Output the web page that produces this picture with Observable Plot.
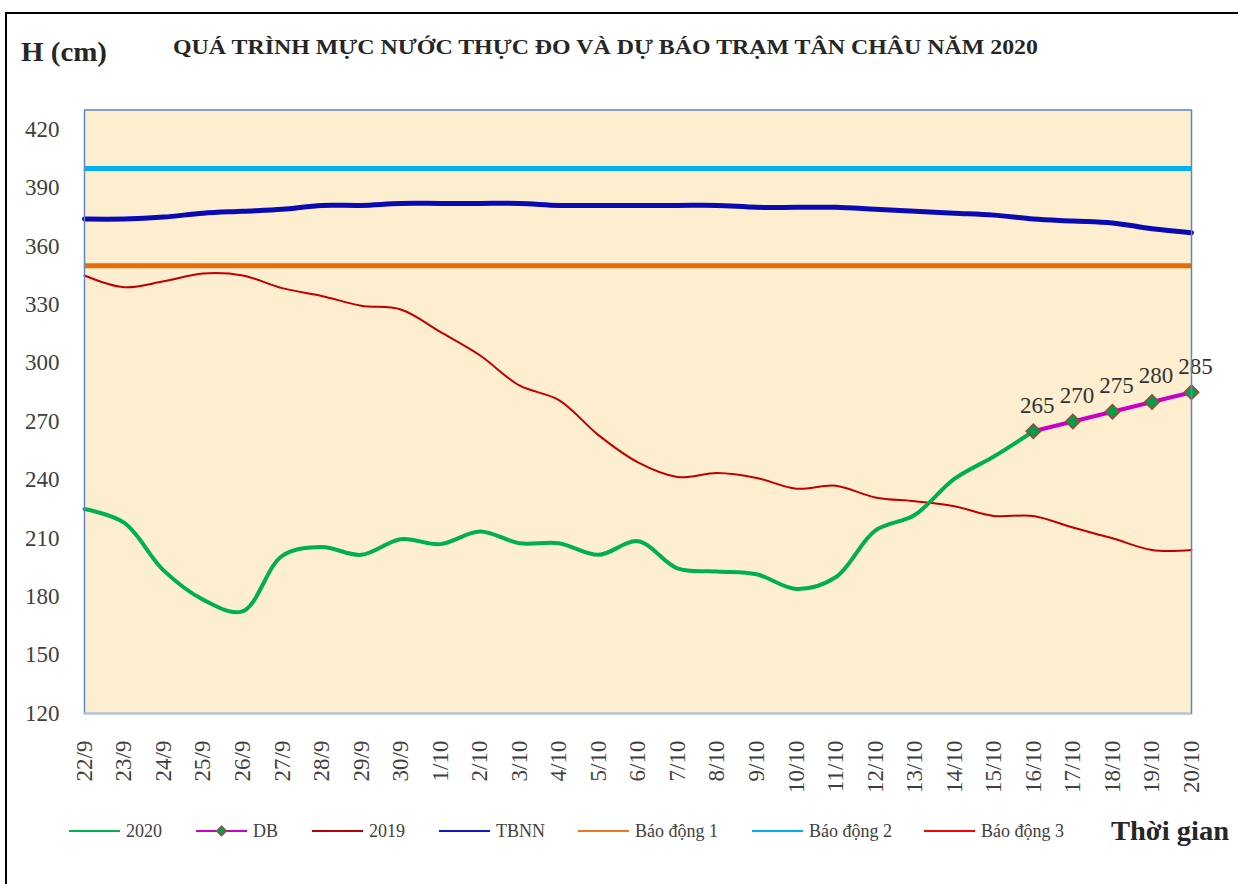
<!DOCTYPE html>
<html><head><meta charset="utf-8">
<script src="https://cdn.jsdelivr.net/npm/d3@7"></script>
<script src="https://cdn.jsdelivr.net/npm/@observablehq/plot@0.6"></script>
<style>
body{margin:0;background:#fff;}
#wrap{position:relative;width:1238px;height:884px;overflow:hidden;font-family:"Liberation Serif","Times New Roman",serif;}
#border{position:absolute;left:5px;top:12px;width:1300px;height:900px;border:2px solid #000;box-sizing:border-box;}
#chart{position:absolute;left:0;top:0;}
#chart svg, #chart svg text{font-family:"Liberation Serif","Times New Roman",serif !important;}
#overlay{position:absolute;left:0;top:0;}
</style></head><body>
<div id="wrap"><div id="border"></div><div id="chart"></div><svg id="overlay" width="1238" height="884"></svg></div>
<script>
// ---- data ----
const dates = ["22/9","23/9","24/9","25/9","26/9","27/9","28/9","29/9","30/9",
  "1/10","2/10","3/10","4/10","5/10","6/10","7/10","8/10","9/10","10/10",
  "11/10","12/10","13/10","14/10","15/10","16/10","17/10","18/10","19/10","20/10"];
const obs2020 = [225, 218, 193.5, 178.5, 172.5, 201, 205.5, 201.5, 209.5, 207, 213.5, 207.5, 207.5,
  201.5, 208.5, 194.5, 193, 191.5, 184, 190, 214, 222, 240.5, 252, 265];
const forecastDB = [265, 270, 275, 280, 285];
const forecastStart = 24;
const y2019 = [345, 339, 342, 346, 345, 338.5, 334.5, 329.5, 327.5, 316, 304, 288.5, 281, 263, 249,
  241.5, 243.5, 241, 235.5, 237, 231, 229, 226.5, 221.5, 221.5, 215.5, 210, 204, 204];
const tbnn = [374, 374, 375, 377, 378, 379, 381, 381, 382, 382, 382, 382, 381, 381, 381, 381, 381,
  380, 380, 380, 379, 378, 377, 376, 374, 373, 372, 369, 367];
const alarm1 = 350, alarm2 = 400, alarm3 = 450;
const yTicks = [120, 150, 180, 210, 240, 270, 300, 330, 360, 390, 420];
const legendNames = ["2020", "DB", "2019", "TBNN", "Báo động 1", "Báo động 2", "Báo động 3"];
const legendColors = ["#00B050", "#CC00CC", "#C00000", "#1515C8", "#F07820", "#00B0F0", "#FF0000"];
const legendX = [69, 196, 312, 439, 578, 752, 924];

// ---- tables ----
const obsData = obs2020.map((v, i) => ({i, v}));
const dbData = forecastDB.map((v, k) => ({i: forecastStart + k, v}));
const d2019 = y2019.map((v, i) => ({i, v}));
const dTbnn = tbnn.map((v, i) => ({i, v}));

const serif = "'Liberation Serif', 'Times New Roman', serif";

const chart = Plot.plot({
  width: 1238, height: 800,
  marginLeft: 84, marginRight: 47, marginTop: 109.5, marginBottom: 87,
  style: {fontFamily: serif, fontSize: "23px", color: "#404040", background: "transparent", overflow: "visible"},
  x: {domain: [0, dates.length - 1], ticks: d3.range(dates.length), tickFormat: i => dates[i], tickSize: 0, tickRotate: -90, tickPadding: 27, label: null},
  y: {domain: [120, 430], ticks: yTicks, tickSize: 0, tickPadding: 25, label: null},
  marks: [
    Plot.frame({fill: "#FDEECF", stroke: null}),
    Plot.ruleY([alarm1], {stroke: "#E46C0A", strokeWidth: 5}),
    Plot.ruleY([alarm2], {stroke: "#00B0F0", strokeWidth: 5}),
    Plot.line(dTbnn, {x: "i", y: "v", stroke: "#0A0AB4", strokeWidth: 5, curve: "catmull-rom"}),
    Plot.line(d2019, {x: "i", y: "v", stroke: "#C00000", strokeWidth: 2, curve: "catmull-rom"}),
    Plot.line(obsData, {x: "i", y: "v", stroke: "#00B050", strokeWidth: 4, curve: "catmull-rom"}),
    Plot.line(dbData, {x: "i", y: "v", stroke: "#C800C8", strokeWidth: 4}),
    Plot.dot(dbData, {x: "i", y: "v", symbol: "diamond2", r: 6.5, fill: "#00A04A", stroke: "#A8403C", strokeWidth: 1.5}),
    Plot.text(dbData, {x: "i", y: "v", text: d => String(d.v), dy: -26, dx: 4, fontSize: 23, fill: "#333", fontFamily: serif}),
    Plot.frame({stroke: "#5B87C5", strokeWidth: 1.5, fill: null}),
    Plot.ruleY([120], {stroke: "#B9C4D6", strokeWidth: 2})
  ]
});
// force serif font on every text node of the chart
d3.select(chart).selectAll("text, tspan, g")
  .attr("font-family", serif)
  .style("font-family", serif);
document.getElementById("chart").appendChild(chart);

// ---- title & legend (text overlay) ----
const ns = "http://www.w3.org/2000/svg";
const ov = document.getElementById("overlay");
function txt(x, y, s, attrs) {
  const t = document.createElementNS(ns, "text");
  t.setAttribute("x", x); t.setAttribute("y", y);
  for (const k in attrs) t.setAttribute(k, attrs[k]);
  t.textContent = s; ov.appendChild(t); return t;
}
function el(name, attrs) {
  const e = document.createElementNS(ns, name);
  for (const k in attrs) e.setAttribute(k, attrs[k]);
  ov.appendChild(e); return e;
}
txt(21, 61, "H (cm)", {"font-family": serif, "font-size": 27, "font-weight": "bold", fill: "#262626", textLength: 86, lengthAdjust: "spacingAndGlyphs"});
txt(173, 54, "QUÁ TRÌNH MỰC NƯỚC THỰC ĐO VÀ DỰ BÁO TRẠM TÂN CHÂU NĂM 2020",
  {"font-family": serif, "font-size": 20, "font-weight": "bold", fill: "#262626", textLength: 865, lengthAdjust: "spacingAndGlyphs"});

legendNames.forEach((name, k) => {
  const x0 = legendX[k];
  el("line", {x1: x0, x2: x0 + 51, y1: 831, y2: 831, stroke: legendColors[k], "stroke-width": 2});
  if (name === "DB") {
    const cx = x0 + 25.5;
    el("path", {d: `M${cx},${831-5}L${cx+5},831L${cx},${831+5}L${cx-5},831Z`, fill: "#00A04A", stroke: "#A8403C", "stroke-width": 1.2});
  }
  txt(x0 + 57, 837, name, {"font-family": serif, "font-size": 18, fill: "#404040"});
});
txt(1111, 840, "Thời gian", {"font-family": serif, "font-size": 28, "font-weight": "bold", fill: "#262626", textLength: 118, lengthAdjust: "spacingAndGlyphs"});
</script>
</body></html>
